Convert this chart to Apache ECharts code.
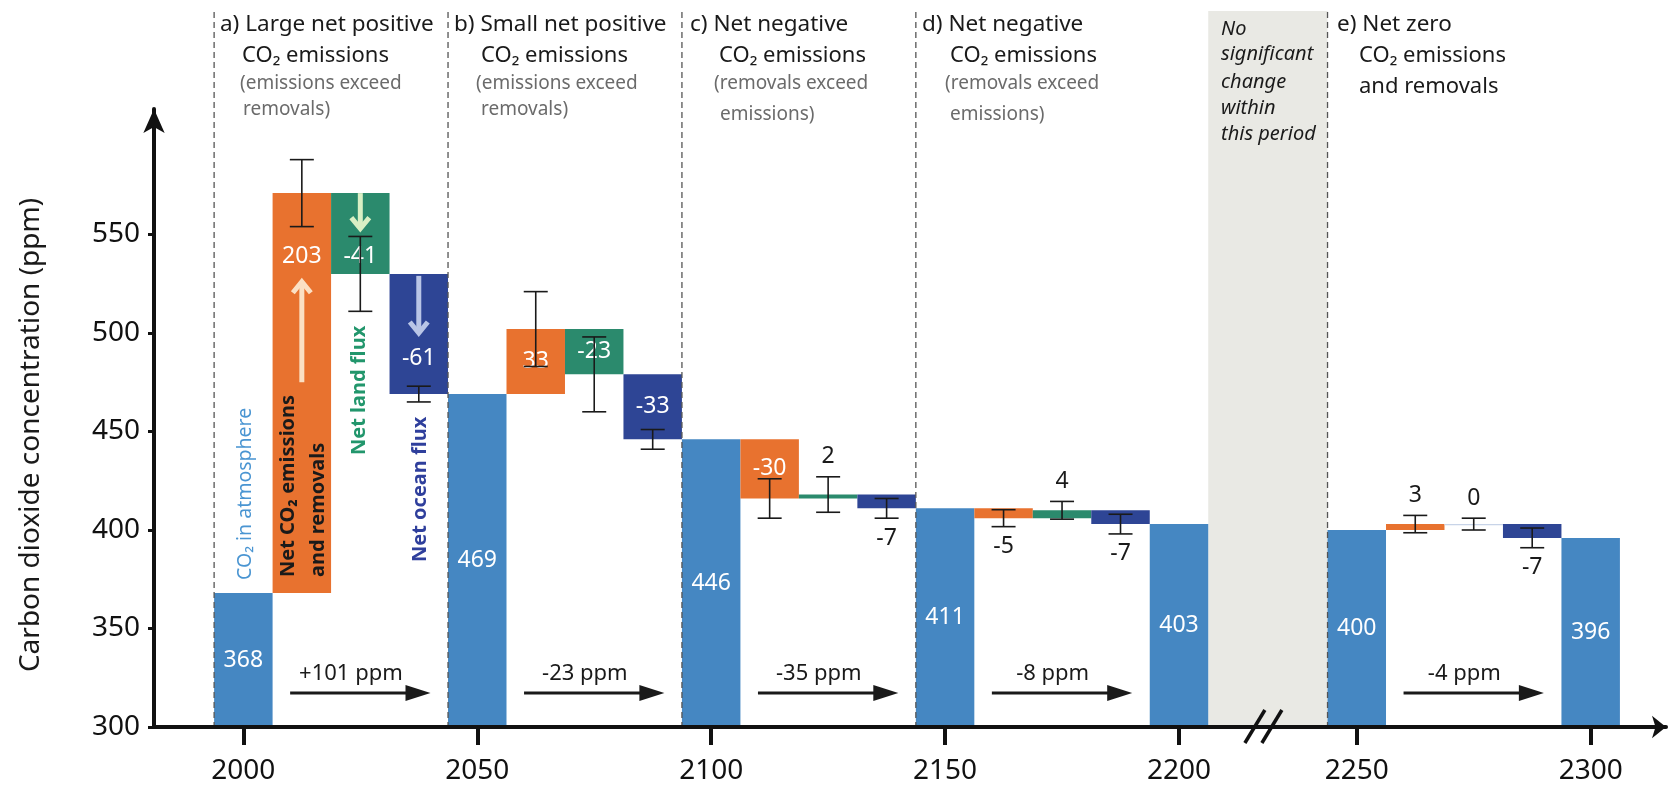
<!DOCTYPE html>
<html>
<head>
<meta charset="utf-8">
<script src="https://cdn.jsdelivr.net/npm/echarts@6/dist/echarts.min.js"></script>
<style>
html, body { margin: 0; padding: 0; background: #fff; }
#main { width: 1673px; height: 793px; }
</style>
</head>
<body>
<div id="main"></div>
<script>
// CO2 in atmosphere at the period boundaries (ppm)
var stockYears = [2000, 2050, 2100, 2150, 2200, 2250, 2300];
var atmosphere = [368, 469, 446, 411, 403, 400, 396];
// periods a) .. e)
var periodStart = [2000, 2050, 2100, 2150, 2250];
var periodEnd = [2050, 2100, 2150, 2200, 2300];
var emissions = [203, 33, -30, -5, 3];     // net CO2 emissions and removals
var landFlux = [-41, -23, 2, 4, 0];
var oceanFlux = [-61, -33, -7, -7, -7];
var emissionsErr = [17, 19, 10, 4.3, 4.4];
var landErr = [19, 19, 9, 4.5, 3];
var oceanErr = [4, 5, 5, 5, 5];
var netChange = ['+101 ppm', '-23 ppm', '-35 ppm', '-8 ppm', '-4 ppm'];
var xTicks = [2000, 2050, 2100, 2150, 2200, 2250, 2300];
var yTicks = [300, 350, 400, 450, 500, 550];

var FONT = '"Noto Sans", "DejaVu Sans", sans-serif';
var AXIS_MIN = 300;
var BAR_HALF = 6.25;
var colors = ['#4587c2', '#e8722f', '#2b8a6d', '#2e4595'];

// the axis is cut between 2200 and 2250
var BREAK_AT = 2210, BREAK_SHIFT = 12;
function tx(y) { return y > BREAK_AT ? y - BREAK_SHIFT : y; }
function untx(v) { return v > BREAK_AT - BREAK_SHIFT / 2 ? v + BREAK_SHIFT : v; }

// arrows drawn inside the bars of period a)
var flowArrows = {
    1: {from: 475, to: 526, color: '#fbe0c4', label: 539},
    2: {from: 571, to: 553, color: '#d9efc4', label: 539},
    3: {from: 529, to: 500, color: '#b9c5e6', label: 487}
};

var bars = [], errs = [];
stockYears.forEach(function (y, i) {
    bars.push([tx(y), AXIS_MIN, atmosphere[i], 0, atmosphere[i], -1, 0]);
});
periodStart.forEach(function (s, p) {
    var step = (periodEnd[p] - s) / 4;
    var lvl = atmosphere[stockYears.indexOf(s)];
    [[emissions, emissionsErr], [landFlux, landErr], [oceanFlux, oceanErr]].forEach(function (f, k) {
        var v = f[0][p], x = tx(s + step * (k + 1));
        bars.push([x, lvl, lvl + v, k + 1, v, p, f[1][p]]);
        errs.push([x, lvl + v, f[1][p]]);
        lvl += v;
    });
});

var netData = periodStart.map(function (s) { return [tx(s + 10), tx(s + 40), tx(s + 23)]; });
var dividers = periodStart.map(function (s) { return [tx(s) - BAR_HALF, AXIS_MIN]; });
var gapBand = [[tx(periodEnd[3]) + BAR_HALF, tx(periodStart[4]) - BAR_HALF]];

function arrowShape(cx, yFrom, yTo, color) {
    var dir = yTo < yFrom ? -1 : 1;
    return [
        {type: 'line', shape: {x1: cx, y1: yFrom, x2: cx, y2: yTo - dir * 2}, style: {stroke: color, lineWidth: 5}},
        {type: 'polyline', shape: {points: [[cx - 9, yTo - dir * 11], [cx, yTo], [cx + 9, yTo - dir * 11]]},
            style: {stroke: color, lineWidth: 5, fill: null, lineJoin: 'miter'}}
    ];
}

function renderBar(params, api) {
    var x = api.value(0), y0 = api.value(1), y1 = api.value(2), kind = api.value(3);
    var v = api.value(4), p = api.value(5), err = api.value(6);
    var lt = api.coord([x - BAR_HALF, Math.max(y0, y1)]);
    var rb = api.coord([x + BAR_HALF, Math.min(y0, y1)]);
    var h = rb[1] - lt[1];
    var cx = (lt[0] + rb[0]) / 2;
    var kids = [{
        type: 'rect',
        shape: {x: lt[0], y: lt[1], width: rb[0] - lt[0], height: Math.max(h, 1.2)},
        style: {fill: h < 0.5 ? '#c8d4e8' : colors[kind]}
    }];
    var ly, fill = '#fff';
    if (kind === 0 || Math.abs(v) >= 20) {
        ly = lt[1] + h / 2;
        var arr = p === 0 ? flowArrows[kind] : null;
        if (arr) {
            ly = api.coord([x, arr.label])[1];
            kids = kids.concat(arrowShape(cx, api.coord([x, arr.from])[1], api.coord([x, arr.to])[1], arr.color));
        }
    } else {
        fill = '#1a1a1a';
        ly = v >= 0 ? api.coord([x, y1 + err])[1] - 20 : api.coord([x, y1 - err])[1] + 20;
    }
    kids.push({
        type: 'text', x: cx, y: ly,
        style: {text: String(v), align: 'center', verticalAlign: 'middle', fill: fill, fontSize: 23, fontFamily: FONT}
    });
    return {type: 'group', children: kids};
}

function renderErr(params, api) {
    var x = api.value(0), m = api.value(1), e = api.value(2);
    var t = api.coord([x, m + e]), b = api.coord([x, m - e]);
    var st = {stroke: '#1a1a1a', lineWidth: 1.6};
    return {type: 'group', children: [
        {type: 'line', shape: {x1: t[0], y1: t[1], x2: b[0], y2: b[1]}, style: st},
        {type: 'line', shape: {x1: t[0] - 12, y1: t[1], x2: t[0] + 12, y2: t[1]}, style: st},
        {type: 'line', shape: {x1: b[0] - 12, y1: b[1], x2: b[0] + 12, y2: b[1]}, style: st}
    ]};
}

function renderNet(params, api) {
    var a = api.coord([api.value(0), AXIS_MIN]), b = api.coord([api.value(1), AXIS_MIN]), t = api.coord([api.value(2), AXIS_MIN]);
    var y = a[1] - 34;
    return {type: 'group', children: [
        {type: 'line', shape: {x1: a[0], y1: y, x2: b[0] - 20, y2: y}, style: {stroke: '#1a1a1a', lineWidth: 3}},
        {type: 'polygon', shape: {points: [[b[0] - 25, y - 8], [b[0], y], [b[0] - 25, y + 8]]}, style: {fill: '#1a1a1a'}},
        {type: 'text', x: t[0], y: y - 19,
            style: {text: netChange[params.dataIndex], align: 'center', verticalAlign: 'middle', fill: '#1a1a1a', fontSize: 22, fontFamily: FONT}}
    ]};
}

function renderDivider(params, api) {
    var p = api.coord([api.value(0), AXIS_MIN]);
    return {type: 'line', shape: {x1: p[0], y1: 12, x2: p[0], y2: p[1]},
        style: {stroke: '#555', lineWidth: 1.3, lineDash: [6, 4]}};
}

function renderGap(params, api) {
    var a = api.coord([api.value(0), AXIS_MIN]), b = api.coord([api.value(1), AXIS_MIN]);
    return {type: 'rect', shape: {x: a[0], y: 11, width: b[0] - a[0], height: a[1] - 11}, style: {fill: '#e9e9e4'}};
}

function renderBreak(params, api) {
    var a = api.coord([api.value(0), AXIS_MIN]), b = api.coord([api.value(1), AXIS_MIN]);
    var cx = (a[0] + b[0]) / 2 - 3, y = a[1];
    var st = {stroke: '#111', lineWidth: 3.5};
    return {type: 'group', children: [
        {type: 'line', shape: {x1: cx - 20, y1: y + 16, x2: cx - 0, y2: y - 17}, style: st},
        {type: 'line', shape: {x1: cx - 3, y1: y + 16, x2: cx + 17, y2: y - 17}, style: st}
    ]};
}

function txt(x, y, text, size, color, extra) {
    var s = {text: text, fontSize: size, fontFamily: FONT, fill: color, verticalAlign: 'middle', align: 'left'};
    for (var k in (extra || {})) s[k] = extra[k];
    return {type: 'text', x: x, y: y, z: 20, style: s, silent: true};
}
function vtxt(x, y, text, size, color, extra) {
    var t = txt(x, y, text, size, color, extra);
    t.rotation = Math.PI / 2;
    return t;
}

var graphics = [
    txt(220, 25, 'a) Large net positive', 22.5, '#1a1a1a'),
    txt(242, 56, 'CO₂ emissions', 22, '#1a1a1a'),
    txt(240, 84, '(emissions exceed', 19, '#6b6b6b'),
    txt(243, 110, 'removals)', 19, '#6b6b6b'),
    txt(454, 25, 'b) Small net positive', 22.5, '#1a1a1a'),
    txt(481, 56, 'CO₂ emissions', 22, '#1a1a1a'),
    txt(476, 84, '(emissions exceed', 19, '#6b6b6b'),
    txt(481, 110, 'removals)', 19, '#6b6b6b'),
    txt(690, 25, 'c) Net negative', 22.5, '#1a1a1a'),
    txt(719, 56, 'CO₂ emissions', 22, '#1a1a1a'),
    txt(714, 84, '(removals exceed', 19, '#6b6b6b'),
    txt(720, 115, 'emissions)', 19, '#6b6b6b'),
    txt(922, 25, 'd) Net negative', 22.5, '#1a1a1a'),
    txt(950, 56, 'CO₂ emissions', 22, '#1a1a1a'),
    txt(945, 84, '(removals exceed', 19, '#6b6b6b'),
    txt(950, 115, 'emissions)', 19, '#6b6b6b'),
    txt(1337, 25, 'e) Net zero', 22.5, '#1a1a1a'),
    txt(1359, 56, 'CO₂ emissions', 22, '#1a1a1a'),
    txt(1359, 87, 'and removals', 22, '#1a1a1a'),
    txt(1221, 29, 'No', 20, '#1a1a1a', {fontStyle: 'italic'}),
    txt(1221, 54, 'significant', 20, '#1a1a1a', {fontStyle: 'italic'}),
    txt(1221, 82, 'change', 20, '#1a1a1a', {fontStyle: 'italic'}),
    txt(1221, 108, 'within', 20, '#1a1a1a', {fontStyle: 'italic'}),
    txt(1221, 134, 'this period', 20, '#1a1a1a', {fontStyle: 'italic'}),
    vtxt(31, 435, 'Carbon dioxide concentration (ppm)', 28, '#1a1a1a', {align: 'center'}),
    vtxt(245, 580, 'CO₂ in atmosphere', 19.5, '#4a95d2'),
    vtxt(288, 577, 'Net CO₂ emissions', 20, '#1a1a1a', {fontWeight: 'bold'}),
    vtxt(318, 577, 'and removals', 20, '#1a1a1a', {fontWeight: 'bold'}),
    vtxt(359, 455, 'Net land flux', 20, '#22966c', {fontWeight: 'bold'}),
    vtxt(420, 562, 'Net ocean flux', 20, '#2f3f9c', {fontWeight: 'bold'})
];

var myChart = echarts.init(document.getElementById('main'));
var option = {
    animation: false,
    backgroundColor: '#fff',
    grid: {left: 154, right: 7, top: 109, bottom: 66},
    xAxis: {
        type: 'value', min: 1980.9, max: 2304.1, z: 5,
        axisLine: {show: true, lineStyle: {color: '#111', width: 4}, symbol: ['none', 'arrow'], symbolSize: [17, 14]},
        axisTick: {show: true, customValues: xTicks.map(tx), length: 18, lineStyle: {width: 4, color: '#111'}},
        axisLabel: {customValues: xTicks.map(tx), formatter: function (v) { return String(Math.round(untx(v))); },
            fontSize: 28, fontFamily: FONT, color: '#111', margin: 30},
        splitLine: {show: false}
    },
    yAxis: {
        type: 'value', min: 300, max: 613.7, z: 5,
        axisLine: {show: true, lineStyle: {color: '#111', width: 4}, symbol: ['none', 'arrow'], symbolSize: [16, 24]},
        axisTick: {show: true, customValues: yTicks, length: 6, lineStyle: {width: 3, color: '#111'}},
        axisLabel: {customValues: yTicks, fontSize: 28, fontFamily: FONT, color: '#111', margin: 14},
        splitLine: {show: false}
    },
    graphic: {elements: graphics},
    series: [
        {type: 'custom', silent: true, z: 1, renderItem: renderGap, data: gapBand},
        {type: 'custom', silent: true, z: 2, renderItem: renderBar, data: bars},
        {type: 'custom', silent: true, z: 3, renderItem: renderErr, data: errs},
        {type: 'custom', silent: true, z: 3, renderItem: renderNet, data: netData},
        {type: 'custom', silent: true, z: 4, renderItem: renderDivider, data: dividers},
        {type: 'custom', silent: true, z: 8, renderItem: renderBreak, data: gapBand}
    ]
};
myChart.setOption(option);
</script>
</body>
</html>
